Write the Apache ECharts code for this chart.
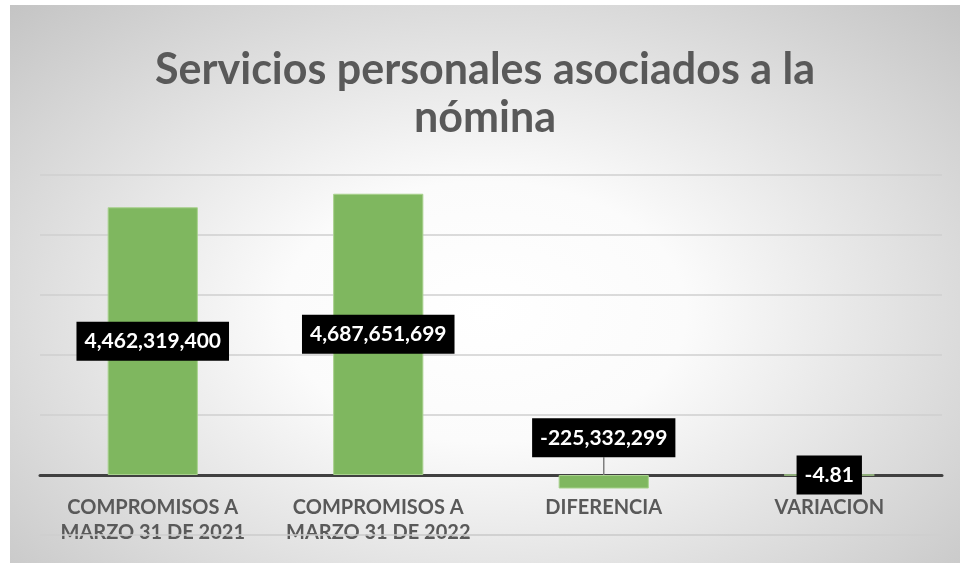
<!DOCTYPE html>
<html>
<head>
<meta charset="utf-8">
<script src="https://cdn.jsdelivr.net/npm/echarts@6/dist/echarts.min.js"></script>
<style>
  html, body { margin: 0; padding: 0; background: #ffffff; }
  #chart {
    position: absolute;
    left: 10px;
    top: 5px;
    width: 950px;
    height: 558px;
    background: radial-gradient(ellipse at 50% 55%, #ffffff 0%, #fbfbfb 30%, #c4c4c4 100%);
  }
</style>
</head>
<body>
<div id="chart"></div>
<script>
// datos del grafico
const categories = [
  'COMPROMISOS A\nMARZO 31 DE 2021',
  'COMPROMISOS A\nMARZO 31 DE 2022',
  'DIFERENCIA',
  'VARIACION'
]
const values = [4462319400, 4687651699, -225332299, -4.81]
const labelTexts = ['4,462,319,400', '4,687,651,699', '-225,332,299', '-4.81']
const axisMin = -1000000000
const axisMax = 5000000000
const axisStep = 1000000000

const myChart = echarts.init(document.getElementById('chart'))
const font = 'Lato, "Open Sans", sans-serif'
const gridColor = '#cfcfcf'

const option = {
  title: {
    text: 'Servicios personales asociados a la\nnómina',
    left: 'center',
    top: 36,
    textStyle: {
      fontFamily: font,
      fontSize: 43,
      fontWeight: 'bold',
      color: '#595959',
      lineHeight: 48
    }
  },
  grid: {
    left: 30,
    right: 18,
    top: 170,
    bottom: 28,
    outerBoundsMode: 'none',
    containLabel: false
  },
  xAxis: {
    type: 'category',
    data: categories,
    // la linea del eje queda en el cero (una division arriba del fondo)
    offset: -60,
    axisTick: { show: false },
    axisLine: {
      onZero: false,
      lineStyle: { color: '#404040', width: 3 }
    },
    axisLabel: {
      interval: 0,
      margin: 20,
      fontFamily: font,
      fontSize: 20,
      fontWeight: 'bold',
      color: '#595959',
      lineHeight: 25
    }
  },
  yAxis: {
    type: 'value',
    min: axisMin,
    max: axisMax,
    interval: axisStep,
    axisLabel: { show: false },
    axisLine: { show: false },
    axisTick: { show: false },
    splitLine: {
      lineStyle: { color: gridColor, width: 1.5 }
    }
  },
  series: [
    {
      type: 'bar',
      barWidth: '40%',
      itemStyle: {
        color: '#7fb75f',
        borderColor: '#a9d18e',
        borderWidth: 1
      },
      data: values.map(function (v, i) {
        const item = { value: v }
        if (i === 2) {
          item.labelLine = { show: true, lineStyle: { color: '#7f7f7f', width: 1.5 } }
        }
        return item
      }),
      label: {
        show: true,
        position: 'inside',
        formatter: function (p) { return labelTexts[p.dataIndex] },
        backgroundColor: '#000000',
        color: '#ffffff',
        fontFamily: font,
        fontSize: 21,
        fontWeight: 'bold',
        padding: [9, 8, 9, 8]
      },
      labelLayout: function (params) {
        if (params.dataIndex === 2) {
          return { dy: -44 }
        }
        return {}
      },
      // linea de la division inferior, que el eje no dibuja
      markLine: {
        silent: true,
        symbol: 'none',
        label: { show: false },
        lineStyle: { color: gridColor, width: 1.5, type: 'solid' },
        data: [{ yAxis: axisMin }]
      }
    }
  ]
}
myChart.setOption(option)
</script>
</body>
</html>
